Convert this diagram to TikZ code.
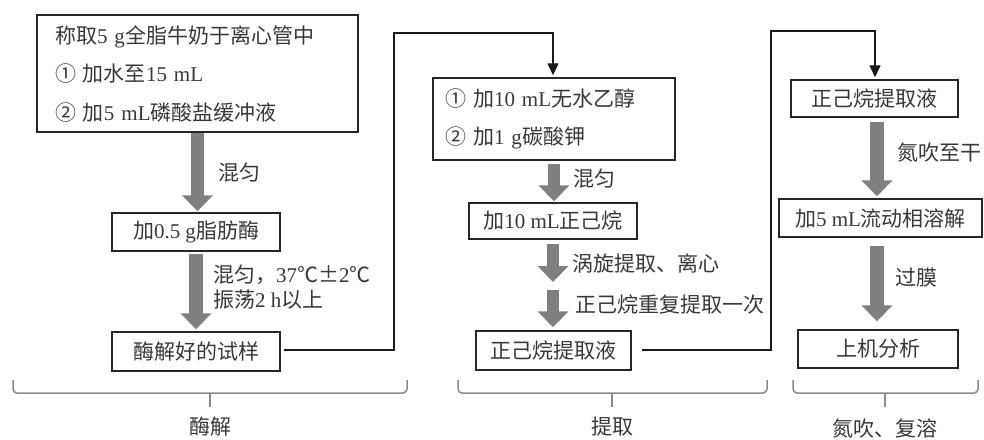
\documentclass[tikz,border=0pt]{standalone}
\usepackage{fontspec}
\setmainfont{Liberation Serif}
\newfontfamily\cjkfont{Noto Sans CJK SC}
\newcommand\ZH[1]{{\cjkfont #1}}
\usetikzlibrary{arrows.meta}
\definecolor{txt}{HTML}{383838}
\definecolor{arrowgray}{HTML}{7F7F7F}
\definecolor{bracegray}{HTML}{8A8A8A}
\begin{document}
\begin{tikzpicture}[x=1pt,y=-1pt,
  every node/.style={text=txt,font=\fontsize{21}{25}\selectfont},
  box/.style={draw=black!85,line width=1.4pt,inner sep=0pt,align=center},
  listbox/.style={box,align=left,inner ysep=0pt,font=\fontsize{21}{38.5}\selectfont},
  lbl/.style={anchor=west,inner sep=0pt,align=left},
  bigarrow/.style={draw=arrowgray,line width=13.5pt,-{Triangle[width=30pt,length=16pt]}},
  conn/.style={draw=black!90,line width=1.3pt,-{Triangle[width=11pt,length=12pt]}},
  bracket/.style={draw=bracegray,line width=1.5pt,rounded corners=4pt}
]
\useasboundingbox (0,0) rectangle (984,439);

% ---- column 1 ----
\node[listbox,minimum width=321pt,minimum height=117pt,inner xsep=18pt,text width=285pt] (b1) at (197.5,73.5)
  {\ZH{称取}5 g\ZH{全脂牛奶于离心管中}\\ \ZH{① 加水至}15 mL\\ \ZH{② 加}5 mL\ZH{磷酸盐缓冲液}};
\node[box,minimum width=168pt,minimum height=38pt] (b2) at (196,232) {\ZH{加}0.5 g\ZH{脂肪酶}};
\node[box,minimum width=168pt,minimum height=39pt] (b3) at (196,351.5) {\ZH{酶解好的试样}};
\node[lbl] (l1) at (218,173) {\ZH{混匀}};
\node[lbl] (l2) at (213,287.5) {\ZH{混匀，}37\ZH{℃±}2\ZH{℃}\\ \ZH{振荡}2 h\ZH{以上}};

% ---- column 2 ----
\node[listbox,minimum width=242pt,minimum height=82pt,inner xsep=12pt,text width=218pt] (b4) at (554,119)
  {\ZH{① 加}10 mL\ZH{无水乙醇}\\ \ZH{② 加}1 g\ZH{碳酸钾}};
\node[box,minimum width=168pt,minimum height=36pt] (b5) at (553,221) {\ZH{加}10 mL\ZH{正己烷}};
\node[box,minimum width=155pt,minimum height=39pt] (b6) at (553.5,350.5) {\ZH{正己烷提取液}};
\coordinate (mid) at (553,286);
\node[lbl] (l3) at (573,179) {\ZH{混匀}};
\node[lbl] (l4) at (572,263) {\ZH{涡旋提取、离心}};
\node[lbl] (l5) at (575,305) {\ZH{正己烷重复提取一次}};

% ---- column 3 ----
\node[box,minimum width=167pt,minimum height=37pt] (b7) at (874.5,98.5) {\ZH{正己烷提取液}};
\node[box,minimum width=203pt,minimum height=38pt] (b8) at (880.5,218) {\ZH{加}5 mL\ZH{流动相溶解}};
\node[box,minimum width=160pt,minimum height=38pt] (b9) at (878,349) {\ZH{上机分析}};
\node[lbl] (l6) at (897,153) {\ZH{氮吹至干}};
\node[lbl] (l7) at (895,278) {\ZH{过膜}};

% ---- big arrows ----
\draw[bigarrow,shorten >=1pt] (b1.south) -- (b1.south |- b2.north);
\draw[bigarrow,shorten <=2pt,shorten >=2pt] (b2.south) -- (b2.south |- b3.north);
\draw[bigarrow,line width=12.5pt,shorten <=3pt,shorten >=1pt] (b4.south) -- (b4.south |- b5.north);
\draw[bigarrow,line width=12.5pt,shorten <=4pt,shorten >=4pt] (b5.south) -- (mid);
\draw[bigarrow,line width=12.5pt,shorten <=4pt,shorten >=3pt] (mid) -- (mid |- b6.north);
\draw[bigarrow,shorten <=4pt,shorten >=2pt] ([xshift=2.5pt]b7.south) -- ([xshift=2.5pt]b7.south |- b8.north);
\draw[bigarrow,shorten <=8pt,shorten >=8pt] ([xshift=-3.5pt]b8.south) -- ([xshift=-3.5pt]b8.south |- b9.north);

% ---- connectors ----
\draw[conn,shorten <=3pt,shorten >=2pt] ([yshift=1.5pt]b3.east) -| (394,33) -| ([xshift=-1pt]b4.north);
\draw[conn,shorten <=10pt,shorten >=2pt] ([yshift=0.5pt]b6.east) -| (771,31) -| ([xshift=0.5pt]b7.north);

% ---- brackets ----
\draw[bracket] (13,380) |- (407,393) -- (407,380);
\draw[bracket] (210,393) -- (210,407);
\draw[bracket] (458,380) |- (767,393) -- (767,380);
\draw[bracket] (612,393) -- (612,407);
\draw[bracket] (793,380) |- (978,393) -- (978,380);
\draw[bracket] (885,393) -- (885,407);
\node (g1) at (210,427) {\ZH{酶解}};
\node (g2) at (612,427) {\ZH{提取}};
\node (g3) at (885,428) {\ZH{氮吹、复溶}};
\end{tikzpicture}
\end{document}
